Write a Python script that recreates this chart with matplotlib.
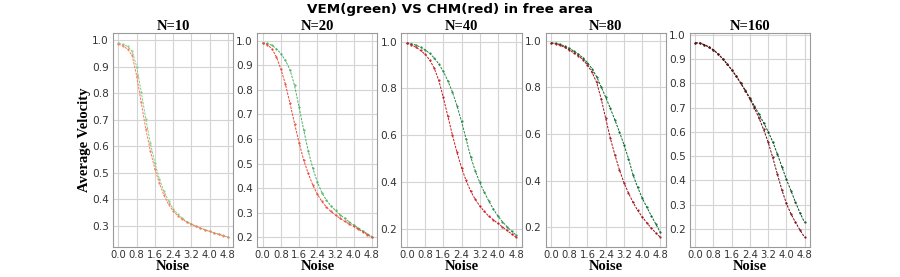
import numpy as np
import matplotlib
matplotlib.use("Agg")
import matplotlib.pyplot as plt

noise = [round(0.2 * i, 1) for i in range(25)]
titles = ["N=10", "N=20", "N=40", "N=80", "N=160"]
xticks = [0.0, 0.8, 1.6, 2.4, 3.2, 4.0, 4.8]

chm_n10 = [0.985, 0.978, 0.966, 0.942, 0.865, 0.765, 0.665, 0.583, 0.514, 0.46, 0.415, 0.381, 0.356,
           0.338, 0.325, 0.314, 0.306, 0.298, 0.291, 0.285, 0.279, 0.273, 0.268, 0.263, 0.257]
vem_n10 = [0.99, 0.984, 0.976, 0.958, 0.9, 0.805, 0.703, 0.612, 0.537, 0.476, 0.43, 0.393, 0.364,
           0.344, 0.329, 0.316, 0.307, 0.299, 0.292, 0.286, 0.28, 0.274, 0.269, 0.264, 0.258]
chm_n20 = [0.99, 0.984, 0.968, 0.935, 0.885, 0.823, 0.745, 0.663, 0.585, 0.515, 0.46, 0.413, 0.376,
           0.346, 0.323, 0.305, 0.29, 0.277, 0.265, 0.254, 0.244, 0.233, 0.222, 0.211, 0.2]
vem_n20 = [0.992, 0.989, 0.982, 0.968, 0.948, 0.92, 0.882, 0.818, 0.73, 0.638, 0.552, 0.482, 0.425,
           0.382, 0.351, 0.328, 0.309, 0.292, 0.277, 0.263, 0.25, 0.238, 0.226, 0.214, 0.203]
chm_n40 = [0.993, 0.986, 0.976, 0.962, 0.946, 0.922, 0.887, 0.835, 0.762, 0.682, 0.602, 0.528, 0.463,
           0.408, 0.363, 0.328, 0.30, 0.276, 0.256, 0.24, 0.225, 0.21, 0.195, 0.18, 0.166]
vem_n40 = [0.995, 0.991, 0.985, 0.976, 0.965, 0.95, 0.93, 0.905, 0.873, 0.833, 0.785, 0.727, 0.66,
           0.585, 0.51, 0.45, 0.40, 0.358, 0.32, 0.286, 0.256, 0.232, 0.211, 0.192, 0.175]
chm_n80 = [0.99, 0.987, 0.981, 0.972, 0.961, 0.949, 0.936, 0.919, 0.896, 0.865, 0.822, 0.752, 0.667,
           0.583, 0.512, 0.447, 0.392, 0.347, 0.307, 0.273, 0.245, 0.22, 0.197, 0.176, 0.157]
vem_n80 = [0.992, 0.99, 0.985, 0.977, 0.968, 0.956, 0.943, 0.927, 0.906, 0.88, 0.846, 0.803, 0.758,
           0.711, 0.661, 0.61, 0.555, 0.495, 0.425, 0.372, 0.326, 0.287, 0.25, 0.214, 0.178]
chm_n160 = [0.968, 0.966, 0.96, 0.95, 0.938, 0.922, 0.902, 0.88, 0.856, 0.83, 0.80, 0.769, 0.735,
            0.698, 0.657, 0.61, 0.558, 0.495, 0.428, 0.362, 0.305, 0.262, 0.227, 0.195, 0.165]
vem_n160 = [0.968, 0.966, 0.96, 0.95, 0.938, 0.922, 0.902, 0.88, 0.856, 0.83, 0.801, 0.772, 0.74,
            0.706, 0.673, 0.638, 0.601, 0.56, 0.51, 0.457, 0.405, 0.358, 0.31, 0.266, 0.226]

chm = [chm_n10, chm_n20, chm_n40, chm_n80, chm_n160]
vem = [vem_n10, vem_n20, vem_n40, vem_n80, vem_n160]
shades = [0.45, 0.6, 0.75, 0.88, 0.98]

fig = plt.figure(figsize=(9, 2.77), dpi=100)
fig.subplots_adjust(left=113/900, right=810/900, top=1-33/277, bottom=1-247/277, wspace=0.2)
axes = fig.subplots(1, 5)

serif = ["Liberation Serif", "DejaVu Serif"]
for i, ax in enumerate(axes):
    ax.set_facecolor("white")
    ax.grid(True, color="#d4d4d4", lw=0.8)
    ax.set_axisbelow(True)
    for s in ax.spines.values():
        s.set_color("#9a9a9a")
        s.set_linewidth(0.8)
    ax.plot(noise, vem[i], color=plt.cm.Greens(shades[i]), ls=(0, (2.5, 1.2)), lw=0.7,
            marker='.', ms=1.1)
    ax.plot(noise, chm[i], color=plt.cm.Reds(shades[i]), ls=(0, (2.5, 1.2)), lw=0.7,
            marker='.', ms=1.1)
    ax.set_xticks(xticks)
    ax.set_xticklabels([f"{t:.1f}" for t in xticks])
    ax.tick_params(length=0, pad=3, labelsize=7.6, labelcolor="#333333")
    ax.tick_params(axis="x", pad=2, labelsize=7.2)
    ax.set_title(titles[i], fontfamily=serif, fontweight="bold", fontsize=10.5, pad=2)
    ax.set_xlabel("Noise", fontfamily=serif, fontweight="bold", fontsize=10.5, labelpad=0)
    if i in (2, 3):
        ax.set_yticks([0.2, 0.4, 0.6, 0.8, 1.0])
    else:
        lo = 0.3 if i == 0 else 0.2
        ax.set_yticks(np.round(np.arange(lo, 1.001, 0.1), 1))
    ax.set_yticklabels([f"{t:.1f}" for t in ax.get_yticks()])

axes[0].set_ylabel("Average Velocity", fontfamily=serif, fontweight="bold", fontsize=10.5, labelpad=1)
fig.suptitle("VEM(green) VS CHM(red) in free area", fontweight="bold", fontsize=9.7, y=1-10/277, va="center")
fig.savefig("out.png", dpi=100, facecolor="white")
